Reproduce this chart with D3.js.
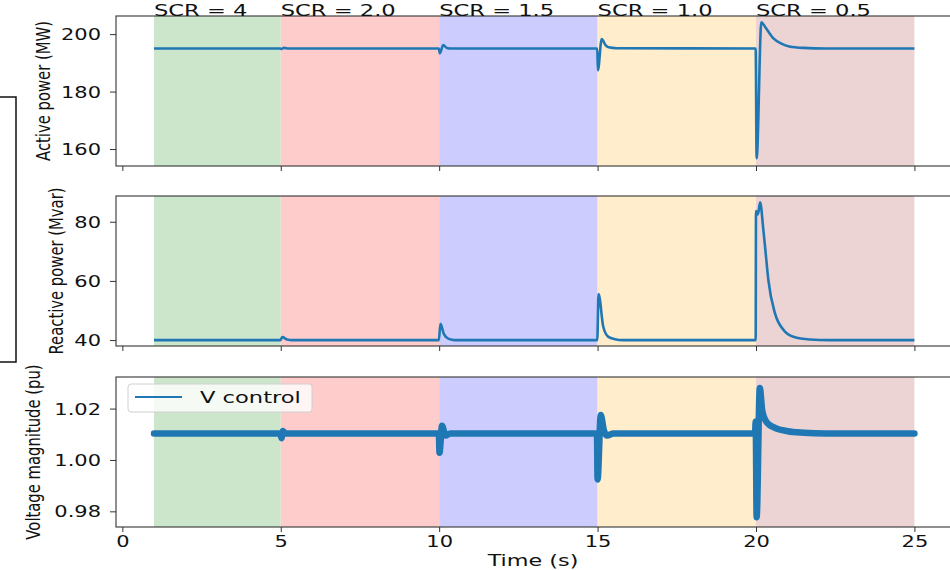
<!DOCTYPE html>
<html><head><meta charset="utf-8">
<script src="https://cdn.jsdelivr.net/npm/d3@7"></script>
<style>
body{margin:0;background:#fff}
svg{display:block;background:#fff}
text{font-family:"DejaVu Sans",sans-serif;fill:#111}
</style>
</head><body>
<svg id="c" width="950" height="570"></svg>
<script>
// ---- data ----
const scrStart = [1, 5, 10, 15, 20];
const scrEnd = [5, 10, 15, 20, 25];
const scrLabels = ["SCR = 4", "SCR = 2.0", "SCR = 1.5", "SCR = 1.0", "SCR = 0.5"];
const scrColors = ["#cce6cc", "#ffcccc", "#ccccff", "#ffedcc", "#edd4d4"];
const xTicks = [0, 5, 10, 15, 20, 25];

const pTime  = [1, 4.99, 5.02, 5.1, 5.25, 9.99, 10.02, 10.13, 10.24, 10.4, 14.99, 15.01, 15.13, 15.25, 15.35, 15.6, 19.99, 20.02, 20.17, 20.3, 20.55, 20.8, 21.05, 21.5, 22.2, 25];
const pValue = [195, 195, 194.8, 195.2, 195, 195, 193.3, 196.2, 195.2, 195, 195, 187.4, 198.3, 196.2, 195.4, 195.1, 195, 156.8, 204.1, 202.3, 198.5, 196.7, 195.7, 195.2, 195, 195];

const qTime  = [1, 4.99, 5.05, 5.2, 5.35, 9.99, 10.04, 10.15, 10.3, 10.5, 14.99, 15.03, 15.18, 15.34, 15.55, 15.8, 19.99, 20.0, 20.06, 20.13, 20.23, 20.3, 20.39, 20.6, 20.87, 21.18, 21.7, 22.3, 25];
const qValue = [40, 40, 41.0, 40.2, 40, 40, 45.5, 42, 40.4, 40, 40, 55.6, 44.5, 41.1, 40.3, 40, 40, 83.6, 82.5, 86.6, 77.5, 70, 60.3, 49, 43.4, 41.1, 40.2, 40, 40];

const vTime  = [1, 4.99, 5.02, 5.07, 5.15, 9.99, 10.01, 10.09, 10.2, 10.35, 14.98, 15.0, 15.1, 15.2, 15.3, 15.5, 19.97, 19.99, 20.02, 20.12, 20.2, 20.35, 20.6, 21.0, 21.5, 22.2, 25];
const vValue = [1.0103, 1.0103, 1.0085, 1.0113, 1.0103, 1.0103, 1.0028, 1.0133, 1.0095, 1.0103, 1.0103, 0.9924, 1.0175, 1.0115, 1.0095, 1.0103, 1.0103, 1.015, 0.9777, 1.0280, 1.019, 1.0145, 1.0125, 1.0112, 1.0106, 1.0103, 1.0103];

const pTicks = [160, 180, 200];
const qTicks = [40, 60, 80];
const vTicks = [0.98, 1.00, 1.02];
const vTickLabels = ["0.98", "1.00", "1.02"];
const legendLabel = "V control";

// ---- drawing ----
const SX = 1.37;
const BLUE = "#1f77b4";
const svg = d3.select("#c");
const x = d3.scaleLinear().domain([-0.2, 26.3]).range([116, 955.6]);

const panels = [
  {t: pTime, v: pValue, top: 16, bot: 166, dom: [154.1, 206.3], ticks: pTicks, fmt: d => String(d), label: "Active power (MW)", lx: 43, w: 2.6},
  {t: qTime, v: qValue, top: 196, bot: 346, dom: [38, 88.7], ticks: qTicks, fmt: d => String(d), label: "Reactive power (Mvar)", lx: 56, w: 2.6},
  {t: vTime, v: vValue, top: 377, bot: 527, dom: [0.9739, 1.0323], ticks: vTicks, fmt: (d, i) => vTickLabels[i], label: "Voltage magnitude (pu)", lx: 33, w: 6.5}
];

function hText(g, X, Y, str, size, anchor) {
  return g.append("text")
    .attr("transform", `translate(${X},${Y}) scale(${SX},1)`)
    .attr("text-anchor", anchor || "start")
    .style("font-size", size + "px")
    .text(str);
}

panels.forEach((p, i) => {
  const y = d3.scaleLinear().domain(p.dom).range([p.bot, p.top]);
  const g = svg.append("g");

  g.selectAll("rect.shade").data(scrStart).join("rect")
    .attr("class", "shade")
    .attr("x", d => x(d))
    .attr("width", (d, j) => x(scrEnd[j]) - x(d))
    .attr("y", p.top).attr("height", p.bot - p.top)
    .attr("fill", (d, j) => scrColors[j]);

  const line = d3.line().curve(d3.curveMonotoneX).x(j => x(p.t[j])).y(j => y(p.v[j]));
  g.append("path").datum(d3.range(p.t.length))
    .attr("d", line)
    .attr("fill", "none").attr("stroke", BLUE)
    .attr("stroke-width", p.w)
    .attr("stroke-linejoin", "round")
    .attr("stroke-linecap", i === 2 ? "round" : "butt");

  g.append("rect")
    .attr("x", 116).attr("y", p.top)
    .attr("width", 860).attr("height", p.bot - p.top)
    .attr("fill", "none").attr("stroke", "#333").attr("stroke-width", 1.1);

  const ya = g.append("g").attr("transform", "translate(116,0)")
    .call(d3.axisLeft(y).tickValues(p.ticks).tickFormat(p.fmt).tickSize(6));
  ya.attr("font-size", null).attr("font-family", null);
  ya.select(".domain").remove();
  ya.selectAll(".tick line").attr("stroke", "#333");
  ya.selectAll(".tick text")
    .attr("x", -15 / SX).attr("dy", "0.36em")
    .attr("transform", `scale(${SX},1)`)
    .style("font-size", "15.3px");

  const xa = g.append("g").attr("transform", `translate(0,${p.bot})`)
    .call(d3.axisBottom(x).tickValues(xTicks).tickSize(5).tickFormat(i === 2 ? d3.format("d") : ""));
  xa.attr("font-size", null).attr("font-family", null);
  xa.select(".domain").remove();
  xa.selectAll(".tick line").attr("stroke", "#333");
  xa.selectAll(".tick text")
    .attr("y", 20).attr("dy", 0)
    .attr("transform", `scale(${SX},1)`)
    .style("font-size", "15.3px");

  g.append("text")
    .attr("transform", `translate(${p.lx},${(p.top + p.bot) / 2}) rotate(-90) scale(1,${SX})`)
    .attr("text-anchor", "middle").attr("dy", "0.36em")
    .style("font-size", "14.8px")
    .text(p.label);
});

// SCR labels
const lab = svg.append("g");
scrStart.forEach((s, j) => hText(lab, x(s), 16, scrLabels[j], 16.5, "start"));

// x axis title
hText(svg, 533, 566, "Time (s)", 16.3, "middle");

// legend
const lg = svg.append("g");
lg.append("rect").attr("x", 128).attr("y", 384).attr("width", 184).attr("height", 28)
  .attr("rx", 3).attr("fill", "#fff").attr("fill-opacity", 0.8)
  .attr("stroke", "#d0d0d0").attr("stroke-width", 1);
lg.append("line").attr("x1", 135).attr("x2", 182).attr("y1", 397).attr("y2", 397)
  .attr("stroke", BLUE).attr("stroke-width", 2);
hText(lg, 200, 403, legendLabel, 16.5, "start");

// left bracket
svg.append("path").attr("d", "M0,97 H16 V362 H0")
  .attr("fill", "none").attr("stroke", "#111").attr("stroke-width", 1.5);
</script>
</body></html>
